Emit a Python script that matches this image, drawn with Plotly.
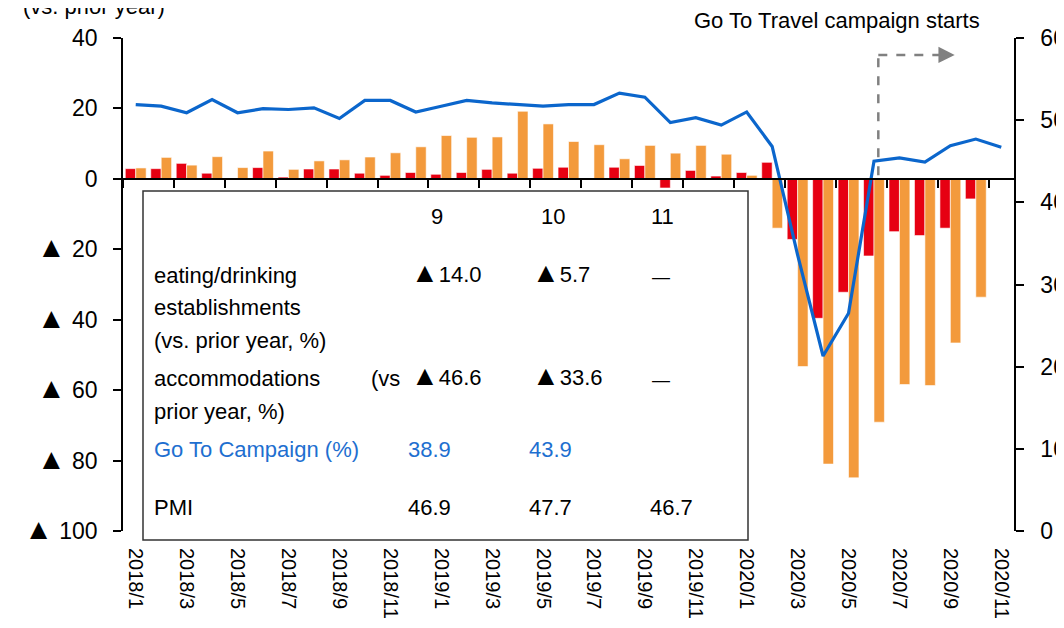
import plotly.graph_objects as go

# ---------------- data ----------------
months = ["2018/1", "2018/2", "2018/3", "2018/4", "2018/5", "2018/6",
          "2018/7", "2018/8", "2018/9", "2018/10", "2018/11", "2018/12",
          "2019/1", "2019/2", "2019/3", "2019/4", "2019/5", "2019/6",
          "2019/7", "2019/8", "2019/9", "2019/10", "2019/11", "2019/12",
          "2020/1", "2020/2", "2020/3", "2020/4", "2020/5", "2020/6",
          "2020/7", "2020/8", "2020/9", "2020/10", "2020/11"]

# eating/drinking establishments, vs. prior year (%)
eating = [2.9, 2.9, 4.4, 1.6, 0.2, 3.2, 0.5, 2.8, 2.8, 1.6, 1.0, 1.8,
          1.3, 1.8, 2.7, 1.6, 3.0, 3.3, -0.3, 3.3, 3.8, -2.6, 2.4, 0.8,
          1.8, 4.7, -17.2, -39.6, -32.2, -21.9, -15.0, -16.1, -14.0, -5.7, None]

# accommodations, vs. prior year (%)
accom = [3.1, 6.1, 3.9, 6.3, 3.2, 7.9, 2.7, 5.1, 5.4, 6.2, 7.4, 9.1,
         12.3, 11.8, 11.9, 19.2, 15.6, 10.6, 9.7, 5.7, 9.5, 7.3, 9.5, 7.0,
         1.0, -14.0, -53.3, -81.0, -84.9, -69.1, -58.4, -58.7, -46.6, -33.6, None]

# PMI (right axis)
pmi = [51.9, 51.7, 50.9, 52.5, 50.9, 51.4, 51.3, 51.5, 50.2, 52.4, 52.4, 51.0,
       51.7, 52.4, 52.1, 51.9, 51.7, 51.9, 51.9, 53.3, 52.8, 49.7, 50.3, 49.4,
       51.0, 46.8, 33.6, 21.3, 26.5, 45.0, 45.4, 44.9, 46.9, 47.7, 46.7]

x_ticklabels = months[::2]

TRI = "<span style='font-size:29px'>▲</span>"
y_left_vals = [-100, -80, -60, -40, -20, 0, 20, 40]
y_left_text = [TRI + " 100", TRI + " 80", TRI + " 60", TRI + " 40", TRI + " 20", "0", "20", "40"]
y_left_range = [-100, 40]
y_right_range = [0, 60]

table_cols = ["9", "10", "11"]
tbl_eating = ["▲14.0", "▲5.7", "—"]
tbl_accom = ["▲46.6", "▲33.6", "—"]
tbl_goto = ["38.9", "43.9", ""]
tbl_pmi = ["46.9", "47.7", "46.7"]

campaign_start_idx = 29.17   # position of the campaign-start marker on the month index scale

# ---------------- styling ----------------
RED = "#E60012"
ORANGE = "#F39A3C"
BLUE = "#0B66CC"
BLUE_TXT = "#1E6FD0"
GRAY = "#808080"
FONT = "Liberation Sans, Arial, sans-serif"

W, H = 1064, 628
BODY = 8                               # default page margin around the plot div
PL, PT, PW, PH = 123, 38, 891, 493     # plot area in window pixels


def px(xp):
    return (xp - PL) / PW


def py(yp):
    return (PT + PH - yp) / PH


def tri(s):
    return s.replace("▲", "<span style='font-size:28px'>▲</span>")


n = len(months)
fig = go.Figure()

fig.add_trace(go.Bar(x=months, y=eating, marker=dict(color=RED, line=dict(color="white", width=0.6)),
                     name="eating/drinking", showlegend=False))
fig.add_trace(go.Bar(x=months, y=accom, marker=dict(color=ORANGE, line=dict(color="white", width=0.6)),
                     name="accommodations", showlegend=False))
fig.add_trace(go.Scatter(x=months, y=pmi, yaxis="y2", mode="lines",
                         line=dict(color=BLUE, width=3.2), name="PMI", showlegend=False))
# helper trace to register the zero-line tick axis
fig.add_trace(go.Scatter(x=[0, n - 1], y=[None, None], xaxis="x2", yaxis="y",
                         mode="lines", showlegend=False, hoverinfo="skip"))

zero_pos = (0 - y_left_range[0]) / (y_left_range[1] - y_left_range[0])

fig.update_layout(
    width=W, height=H,
    margin=dict(l=PL - BODY, r=W - (PL - BODY) - PW, t=PT - BODY, b=H - (PT - BODY) - PH,
                autoexpand=False),
    paper_bgcolor="white", plot_bgcolor="white",
    font=dict(family=FONT, color="black", size=22),
    barmode="group", bargap=0.18, bargroupgap=0.0,
    showlegend=False,
    xaxis=dict(type="category", categoryorder="array", categoryarray=months,
               range=[-0.5, n - 0.5], tickmode="array", tickvals=x_ticklabels,
               ticktext=x_ticklabels, tickangle=90, ticks="", showline=False,
               showgrid=False, zeroline=False, tickfont=dict(size=20),
               ticklabelstandoff=16, automargin=False),
    xaxis2=dict(overlaying="x", anchor="free", position=zero_pos, side="bottom",
                range=[-0.5, n - 0.5], tickmode="array",
                tickvals=[i - 0.5 for i in range(0, n, 2)],
                ticks="outside", ticklen=8, tickwidth=1.5, tickcolor="black",
                showline=True, linewidth=1.5, linecolor="black",
                showticklabels=False, showgrid=False, zeroline=False, automargin=False),
    yaxis=dict(range=y_left_range, tickmode="array", tickvals=y_left_vals,
               ticktext=y_left_text, ticks="outside", ticklen=8, tickwidth=1.5,
               tickcolor="black", showline=True, linewidth=1.5, linecolor="black",
               showgrid=False, zeroline=False, tickfont=dict(size=23),
               ticklabelstandoff=11, automargin=False),
    yaxis2=dict(overlaying="y", side="right", range=y_right_range, dtick=10,
                ticks="outside", ticklen=8, tickwidth=1.5, tickcolor="black",
                showline=True, linewidth=1.5, linecolor="black",
                showgrid=False, zeroline=False, tickfont=dict(size=23),
                ticklabelstandoff=12, automargin=False),
)

# table box
fig.add_shape(type="rect", xref="paper", yref="paper",
              x0=px(143), x1=px(748), y0=py(540), y1=py(191),
              line=dict(color="#333333", width=1.5), fillcolor="white", layer="below")

# campaign start marker (dashed elbow + arrow head)
marker_y = 35.2
fig.add_shape(type="line", xref="x2", yref="y", x0=campaign_start_idx, x1=campaign_start_idx,
              y0=1, y1=marker_y, line=dict(color=GRAY, width=2.5, dash="dash"))
fig.add_shape(type="line", xref="x2", yref="y", x0=campaign_start_idx, x1=campaign_start_idx + 2.4,
              y0=marker_y, y1=marker_y, line=dict(color=GRAY, width=2.5, dash="dash"))
fig.add_annotation(x=campaign_start_idx + 3.0, y=marker_y, xref="x2", yref="y",
                   ax=-16, ay=0, text="", showarrow=True, arrowhead=2,
                   arrowsize=1.3, arrowwidth=2.5, arrowcolor=GRAY)


def txt(s, xp, yp, anchor="left", color="black", size=22):
    fig.add_annotation(text=s, xref="paper", yref="paper", x=px(xp), y=py(yp),
                       xanchor=anchor, yanchor="middle", showarrow=False,
                       font=dict(size=size, color=color, family=FONT))


txt("(vs. prior year)", 21, 6)
txt("Go To Travel campaign starts", 692, 21)

col_hdr_x = [437, 553, 662]
for s, xx in zip(table_cols, col_hdr_x):
    txt(s, xx, 216, anchor="center")

txt("eating/drinking", 152, 275)
txt("establishments", 152, 307)
txt("(vs. prior year, %)", 152, 340)
txt("accommodations", 152, 378)
txt("(vs", 369, 378)
txt("prior year, %)", 152, 411)
txt("Go To Campaign (%)", 152, 450, color=BLUE_TXT)
txt("PMI", 152, 507)

val_left_x = [409, 530]
for i, s in enumerate(tbl_eating):
    if s == "—":
        txt(s, 661, 277, anchor="center", size=18)
    else:
        txt(tri(s), val_left_x[i], 272)
for i, s in enumerate(tbl_accom):
    if s == "—":
        txt(s, 661, 380, anchor="center", size=18)
    else:
        txt(tri(s), val_left_x[i], 375)

num_center_x = [429, 550, 671]
for i, s in enumerate(tbl_goto):
    if s:
        txt(s, num_center_x[i], 450, anchor="center", color=BLUE_TXT)
for i, s in enumerate(tbl_pmi):
    txt(s, num_center_x[i], 507, anchor="center")

fig.write_html("out.html")
